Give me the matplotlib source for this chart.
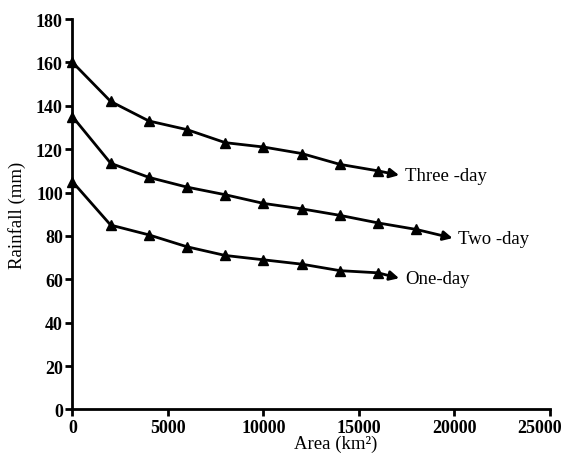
import matplotlib
matplotlib.use('Agg')
import matplotlib.pyplot as plt
from matplotlib.transforms import ScaledTranslation

# values (area in km2, rainfall in mm)
area_three = [0, 2000, 4000, 6000, 8000, 10000, 12000, 14000, 16000]
rain_three = [160, 142, 133, 129, 123, 121, 118, 113, 110]
end_three = (17100, 108)

area_two = [0, 2000, 4000, 6000, 8000, 10000, 12000, 14000, 16000, 18000]
rain_two = [135, 113.5, 107, 102.5, 99, 95, 92.5, 89.5, 86, 83]
end_two = (19900, 79)

area_one = [0, 2000, 4000, 6000, 8000, 10000, 12000, 14000, 16000]
rain_one = [105, 85, 80.5, 75, 71, 69, 67, 64, 63]
end_one = (17100, 60.5)

labels = ['Three -day', 'Two -day', 'One-day']

plt.rcParams['font.family'] = ['Liberation Serif', 'DejaVu Serif']

fig = plt.figure(figsize=(5.69, 4.56), dpi=100)
ax = fig.add_axes([0.1274, 0.0998, 0.8392, 0.8563])

series = [(area_three, rain_three, end_three),
          (area_two, rain_two, end_two),
          (area_one, rain_one, end_one)]

for (xs, ys, end), lab in zip(series, labels):
    ax.plot(xs, ys, color='black', lw=2, marker='^', ms=7, clip_on=False, zorder=3)
    # last segment ends in an arrow
    ax.annotate('', xy=end, xytext=(xs[-1], ys[-1]),
                arrowprops=dict(arrowstyle='-|>,head_length=0.55,head_width=0.28',
                                color='black', lw=2, shrinkA=0, shrinkB=0))
    ax.text(end[0] + 300, end[1], lab, fontsize=13.5, va='center', ha='left')

ax.set_xlim(0, 25000)
ax.set_ylim(0, 180)
ax.set_xticks([0, 5000, 10000, 15000, 20000, 25000])
ax.set_yticks(range(0, 181, 20))

for side in ['top', 'right']:
    ax.spines[side].set_visible(False)
for side in ['left', 'bottom']:
    ax.spines[side].set_linewidth(2)

ax.tick_params(width=2, length=5, labelsize=13, pad=2)
for t in ax.get_xticklabels() + ax.get_yticklabels():
    t.set_fontweight('bold')

# last x label sits a little left of its tick, as in the original
last = ax.get_xticklabels()[-1]
last.set_transform(last.get_transform() + ScaledTranslation(-10 / 100, 0, fig.dpi_scale_trans))

ax.set_xlabel('Area (km²)', fontsize=13.5)
ax.xaxis.set_label_coords(0.552, -0.064)
ax.set_ylabel('Rainfall (mm)', fontsize=13.5)
ax.yaxis.set_label_coords(-0.097, 0.5)

plt.savefig('out.png', dpi=100)
